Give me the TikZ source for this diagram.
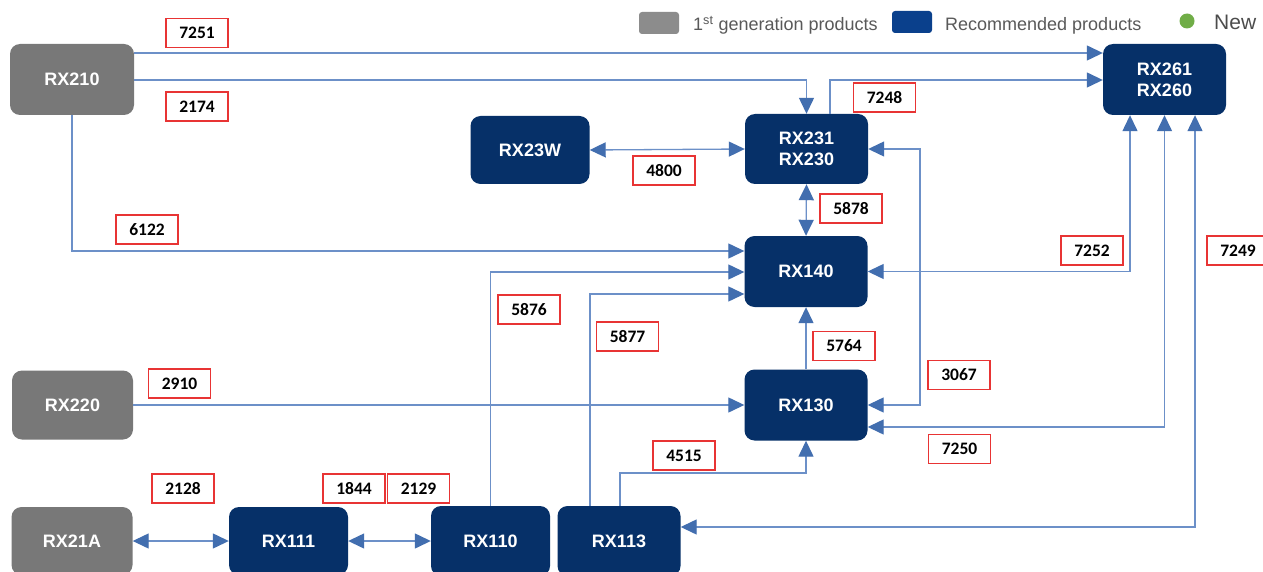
\documentclass[tikz,border=0pt]{standalone}
\usepackage{fontspec}
\setmainfont{Liberation Sans}
\newfontfamily\lblfont{Carlito}
\usetikzlibrary{arrows.meta}
\definecolor{navy}{RGB}{6,48,104}
\definecolor{oldgray}{RGB}{120,120,120}
\definecolor{linecol}{RGB}{108,144,200}
\definecolor{tipcol}{RGB}{66,110,175}
\definecolor{lblred}{RGB}{232,52,52}
\definecolor{legtext}{RGB}{89,89,89}
\definecolor{legblue}{RGB}{10,64,140}
\definecolor{newgreen}{RGB}{112,173,71}
\begin{document}
\begin{tikzpicture}[x=1pt,y=-1pt,
  prod/.style={rounded corners=10pt, inner sep=0pt, text=white,
    font=\fontsize{18}{21}\selectfont\bfseries, align=center},
  newprod/.style={prod, fill=navy, minimum width=123pt, minimum height=70pt},
  oldprod/.style={prod, fill=oldgray, minimum width=121pt, minimum height=69pt},
  conn/.style={draw=linecol, line width=1.3pt},
  >={Triangle[length=16pt,width=15pt,color=tipcol]},
  lbl/.style={draw=lblred, line width=1.2pt, fill=white, minimum width=62pt,
    minimum height=29pt, inner sep=0pt, font=\lblfont\fontsize{17.5}{17.5}\selectfont\bfseries},
  legtxt/.style={anchor=base west, inner sep=0pt, text=legtext, font=\fontsize{18}{20}\selectfont}
]
\useasboundingbox (0,0) rectangle (1263,572);
\fill[white] (0,0) rectangle (1263,572);

% products
\node[oldprod, minimum width=124pt, minimum height=71pt] (rx210) at (72,79.5) {RX210};
\node[oldprod] (rx220) at (72.5,405) {RX220};
\node[oldprod, minimum height=68pt] (rx21a) at (72,541) {RX21A};
\node[newprod, minimum width=119pt, minimum height=68pt] (rx23w) at (530,150) {RX23W};
\node[newprod] (rx231) at (806.5,149) {RX231\\RX230};
\node[newprod, minimum height=71pt] (rx261) at (1164.5,79.5) {RX261\\RX260};
\node[newprod, minimum height=71pt] (rx140) at (806,271.5) {RX140};
\node[newprod, minimum height=71pt] (rx130) at (806,405) {RX130};
\node[newprod, minimum width=119pt, minimum height=68pt] (rx111) at (288.5,541) {RX111};
\node[newprod, minimum width=119pt, minimum height=70pt] (rx110) at (490.5,541) {RX110};
\node[newprod, minimum width=123pt, minimum height=70pt] (rx113) at (619,541) {RX113};

% helper coordinates
\coordinate (y53) at (0,53);
\coordinate (y80) at (0,80);
\coordinate (y251) at (0,251);
\coordinate (y272) at (0,272);
\coordinate (y294) at (0,294);
\coordinate (y427) at (0,427);
\coordinate (y473) at (0,473);
\coordinate (y527) at (0,527);
\coordinate (x590) at (590,0);
\coordinate (x620) at (620,0);
\coordinate (x830) at (830,0);
\coordinate (x920) at (920,0);
\coordinate (x1130) at (1130,0);
\coordinate (x1195) at (1195,0);

% connectors
\draw[conn,->] (rx210.east |- y53) -- (rx261.west |- y53);
\draw[conn,->] (rx210.east |- y80) -- (rx231.north |- y80) -- (rx231.north);
\draw[conn,->] (x830 |- rx231.north) -- (x830 |- y80) -- (rx261.west |- y80);
\draw[conn,<->] (rx23w.east) -- (rx231.west);
\draw[conn,<->] (rx231.south) -- (rx140.north);
\draw[conn,->] (rx210.south) -- (rx210.south |- y251) -- (rx140.west |- y251);
\draw[conn,->] (rx110.north) -- (rx110.north |- y272) -- (rx140.west |- y272);
\draw[conn,->] (x590 |- rx113.north) -- (x590 |- y294) -- (rx140.west |- y294);
\draw[conn,<->] (rx140.east) -- (x1130 |- rx140.east) -- (x1130 |- rx261.south);
\draw[conn,<->] (rx130.east) -- (x920 |- rx130.east) -- (x920 |- rx231.east) -- (rx231.east);
\draw[conn,<->] (rx130.east |- y427) -- (rx261.south |- y427) -- (rx261.south);
\draw[conn,<->] (rx113.east |- y527) -- (x1195 |- y527) -- (x1195 |- rx261.south);
\draw[conn,->] (rx130.north) -- (rx140.south);
\draw[conn,->] (x620 |- rx113.north) -- (x620 |- y473) -- (rx130.south |- y473) -- (rx130.south);
\draw[conn,->] (rx220.east) -- (rx130.west);
\draw[conn,<->] (rx21a.east) -- (rx111.west);
\draw[conn,<->] (rx111.east) -- (rx110.west);

% labels
\node[lbl] (l7251) at (197,33) {7251};
\node[lbl] (l2174) at (197,106.5) {2174};
\node[lbl] (l6122) at (147,229.5) {6122};
\node[lbl] (l7248) at (884.5,97.5) {7248};
\node[lbl] (l4800) at (664,170.5) {4800};
\node[lbl] (l5878) at (851,208.5) {5878};
\node[lbl] (l7252) at (1092,250.5) {7252};
\node[lbl] (l7249) at (1238,250.5) {7249};
\node[lbl] (l5876) at (529,309.5) {5876};
\node[lbl] (l5877) at (627.5,336.5) {5877};
\node[lbl] (l5764) at (844,346) {5764};
\node[lbl] (l3067) at (959,375) {3067};
\node[lbl] (l2910) at (179.5,383.5) {2910};
\node[lbl] (l7250) at (959.5,449) {7250};
\node[lbl] (l4515) at (684,455.5) {4515};
\node[lbl] (l2128) at (183,488.5) {2128};
\node[lbl] (l1844) at (354,488.5) {1844};
\node[lbl] (l2129) at (418.5,488.5) {2129};

% legend
\fill[oldgray!85, rounded corners=3pt] (639,12) rectangle (679,34);
\node[legtxt] (leg1) at (693,31) {1\textsuperscript{st} generation products};
\fill[legblue, rounded corners=3pt] (892,11) rectangle (932,33);
\node[legtxt] (leg2) at (945,31) {Recommended products};
\fill[newgreen] (1187,21) circle (7.5pt);
\node[legtxt, text=legtext!85!black, font=\fontsize{21}{24}\selectfont] (leg3) at (1214,29.5) {New};
\end{tikzpicture}
\end{document}
